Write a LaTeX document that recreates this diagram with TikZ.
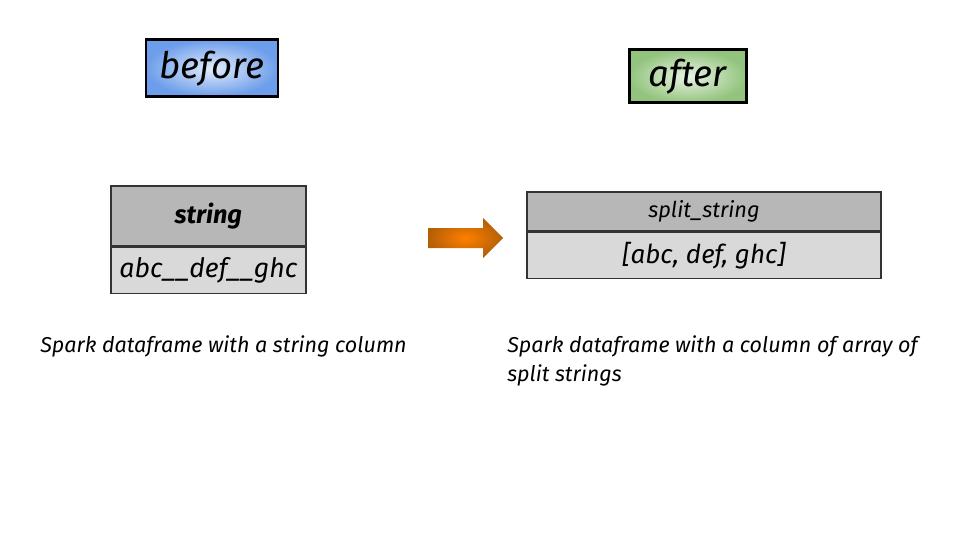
\documentclass[tikz,border=0pt]{standalone}
\usepackage{fontspec}
\setmainfont{Fira Sans}
\usetikzlibrary{positioning}

\definecolor{beforeblue}{HTML}{6D9EEB}
\definecolor{aftergreen}{HTML}{93C47D}
\definecolor{headgray}{HTML}{B7B7B7}
\definecolor{rowgray}{HTML}{D9D9D9}
\definecolor{arroworange}{HTML}{B45F06}

\tikzset{
    tagbox/.style={draw=black, line width=2pt, shading=radial, inner sep=0pt,
        font=\fontsize{26}{30}\selectfont\itshape},
    headcell/.style={draw=black!80, line width=0.9pt, fill=headgray, inner sep=0pt},
    rowcell/.style={draw=black!80, line width=0.9pt, fill=rowgray, inner sep=0pt},
    caption/.style={inner sep=0pt, align=left, font=\fontsize{15.3}{20.6}\selectfont\itshape}
}

\begin{document}
\begin{tikzpicture}
    % page frame, 960x540 px at 40 px per cm
    \useasboundingbox (0,0) rectangle (24,13.5);

    % Labels on top
    \node[tagbox, inner color=beforeblue!20, outer color=beforeblue,
        minimum width=3.3cm, minimum height=1.425cm] (before) at (5.3,11.79) {before};
    \node[tagbox, inner color=aftergreen!20, outer color=aftergreen,
        minimum width=2.925cm, minimum height=1.325cm] (after) at (17.19,11.59) {after};

    % Input dataframe
    \node[headcell, minimum width=4.875cm, minimum height=1.5cm,
        font=\fontsize{18}{20}\selectfont\bfseries\itshape] (strhead) at (5.21,8.1) {string};
    \node[rowcell, minimum width=4.875cm, minimum height=1.15cm,
        font=\fontsize{19}{21}\selectfont\itshape, below=0pt of strhead] (strrow) {abc\_\_def\_\_ghc};

    % Output dataframe
    \node[headcell, minimum width=8.85cm, minimum height=0.975cm,
        font=\fontsize{15.5}{18}\selectfont\itshape] (splithead) at (17.6,8.2125) {split\_string};
    \node[rowcell, minimum width=8.85cm, minimum height=1.15cm,
        font=\fontsize{18.5}{21}\selectfont\itshape, below=0pt of splithead] (splitrow) {[abc, def, ghc]};

    % Transformation arrow (block arrow between the two tables)
    \shade[inner color=orange, outer color=arroworange]
        (10.7,7.3) -- (12.075,7.3) -- (12.075,7.05) -- (12.575,7.55)
        -- (12.075,8.05) -- (12.075,7.8) -- (10.7,7.8) -- cycle;

    % Captions
    \node[caption, anchor=base west] (leftcap) at (1.0,4.7) {Spark dataframe with a string column};
    \node[caption, anchor=base west] (rightcap) at (12.675,3.975)
        {Spark dataframe with a column of array of\\split strings};
\end{tikzpicture}
\end{document}
